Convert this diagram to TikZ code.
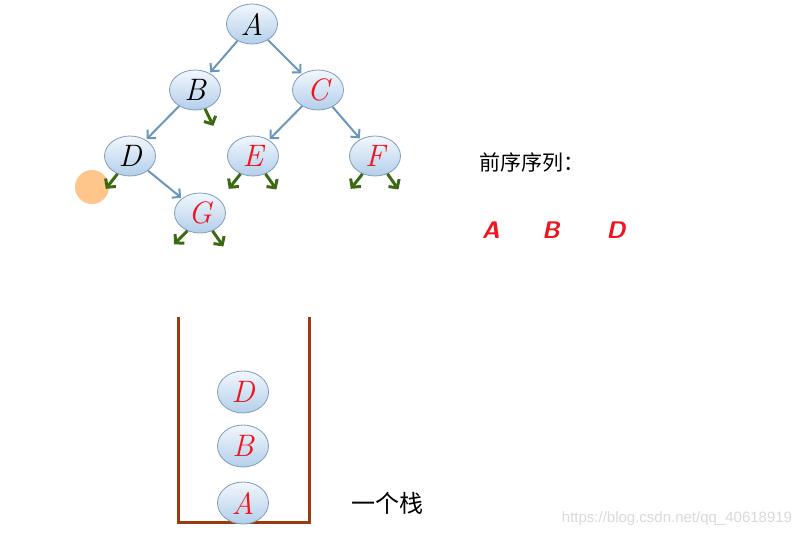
\documentclass[tikz,border=0pt]{standalone}
\usepackage{xcolor}
\usepackage{fontspec}
\newfontfamily\cjk{Noto Sans CJK SC}
\newfontfamily\wmfont{Liberation Sans}
\usepackage{tikz}
\usetikzlibrary{positioning, arrows.meta, shapes.geometric, calc}
\definecolor{nodeedge}{HTML}{7F9DB9}
\definecolor{nodetop}{HTML}{F2F7FD}
\definecolor{nodebot}{HTML}{B3CFEA}
\definecolor{treeblue}{HTML}{6A96BC}
\definecolor{nullgreen}{HTML}{3C6A12}
\definecolor{stackbrown}{HTML}{9A3A12}
\definecolor{seqred}{HTML}{F0141E}
\tikzset{
    vertex/.style={ellipse, draw=nodeedge, thick, top color=nodetop, bottom color=nodebot,
        minimum width=51pt, minimum height=40pt, inner sep=0pt,
        font=\fontsize{31}{31}\selectfont\itshape},
    redv/.style={vertex, text=seqred},
    arrow/.style={-{Straight Barb[length=6pt, width=12pt]}, line width=2pt, treeblue, shorten >=1pt},
    nullarrow/.style={-{Straight Barb[length=6pt, width=13pt]}, line width=3pt, nullgreen},
    seq/.style={font=\sffamily\bfseries\itshape\fontsize{24}{24}\selectfont, text=seqred},
    wall/.style={line width=3pt, stackbrown}
}
\begin{document}
\begin{tikzpicture}[x=1pt, y=-1pt]
\useasboundingbox (0,0) rectangle (809,537);

% tree
\node[vertex] (A) at (252,24) {A};
\node[vertex] (B) at (195,90) {B};
\node[redv] (C) at (318,90) {C};
\node[vertex] (D) at (130,156) {D};
\node[redv] (E) at (253,156) {E};
\node[redv] (F) at (375,156) {F};
\node[redv] (G) at (200,213) {G};

\draw[arrow] (A) -- (B);
\draw[arrow] (A) -- (C);
\draw[arrow] (B) -- (D);
\draw[arrow] (C) -- (E);
\draw[arrow] (C) -- (F);
\draw[arrow] (D) -- (G);

% empty children
\fill[orange!45] (92,187) circle (17);
\foreach \n/\a/\d in {B/-62/64, E/-125/128, E/-55/55, F/-125/128, F/-55/55,
                      G/-125/135, G/-55/55, D/-125/128}
    \draw[nullarrow] (\n.\a) -- ++(\d:19);

% sequence
\node[font=\cjk\fontsize{21}{21}\selectfont, anchor=west] (title) at (476,163) {前序序列：};
\node[seq] (sA) at (491,230) {A};
\node[seq] (sB) at (551,230) {B};
\node[seq] (sD) at (616,230) {D};

% stack
\coordinate (tl) at (178,317);
\coordinate (bl) at (178,522);
\coordinate (br) at (309,522);
\coordinate (tr) at (309,317);
\draw[wall] (tl) -- (bl) -- (br) -- (tr);
\node[redv, minimum height=42pt] (pA) at (243,503) {A};
\node[redv, minimum height=42pt] (pB) at (243,446) {B};
\node[redv, minimum height=42pt] (pD) at (243,392) {D};
\node[font=\cjk\fontsize{24}{24}\selectfont, anchor=west] (name) at (348,503) {一个栈};

\node[font=\wmfont\fontsize{15}{15}\selectfont, text=black!15] (wm) at (677,519) {https://blog.csdn.net/qq\_40618919};
\end{tikzpicture}
\end{document}
